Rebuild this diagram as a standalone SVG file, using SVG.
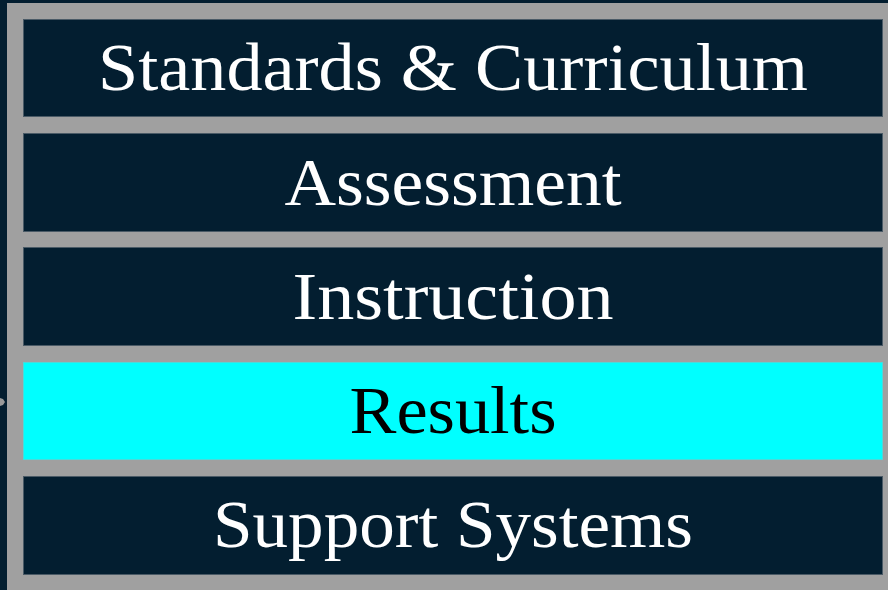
<svg xmlns="http://www.w3.org/2000/svg" width="888" height="590" viewBox="0 0 888 590">
<style>
.bg{fill:#031e30}
.frame{fill:#a0a0a0}
.box{fill:#031e30;stroke:#4a5a66;stroke-width:1}
.hl{fill:#00ffff;stroke:#4adada;stroke-width:1}
.t{font-family:"Liberation Serif","DejaVu Serif",serif;font-size:68px;fill:#ffffff;text-anchor:middle}
.td{fill:#000000}
</style>
<rect class="bg" x="0" y="0" width="888" height="590"/>
<rect class="frame" x="7" y="3" width="881" height="587"/>
<polygon points="0,398 3,399 5,402 3,405 0,406" fill="#9a9a9a"/>
<g id="connectors"/>
<g id="node-standards">
<rect class="box" x="23.5" y="19.5" width="859" height="97"/>
<text class="t" x="453" y="90" textLength="710" lengthAdjust="spacingAndGlyphs">Standards &amp; Curriculum</text>
</g>
<g id="node-assessment">
<rect class="box" x="23.5" y="133.5" width="859" height="98"/>
<text class="t" x="453" y="205" textLength="337" lengthAdjust="spacingAndGlyphs">Assessment</text>
</g>
<g id="node-instruction">
<rect class="box" x="23.5" y="247.5" width="859" height="98"/>
<text class="t" x="453" y="319" textLength="321" lengthAdjust="spacingAndGlyphs">Instruction</text>
</g>
<g id="node-results">
<rect class="hl" x="23.5" y="362.5" width="859" height="97"/>
<text class="t td" x="453" y="433" textLength="207" lengthAdjust="spacingAndGlyphs">Results</text>
</g>
<g id="node-support">
<rect class="box" x="23.5" y="476.5" width="859" height="98"/>
<text class="t" x="453" y="547" textLength="480" lengthAdjust="spacingAndGlyphs">Support Systems</text>
</g>
</svg>
